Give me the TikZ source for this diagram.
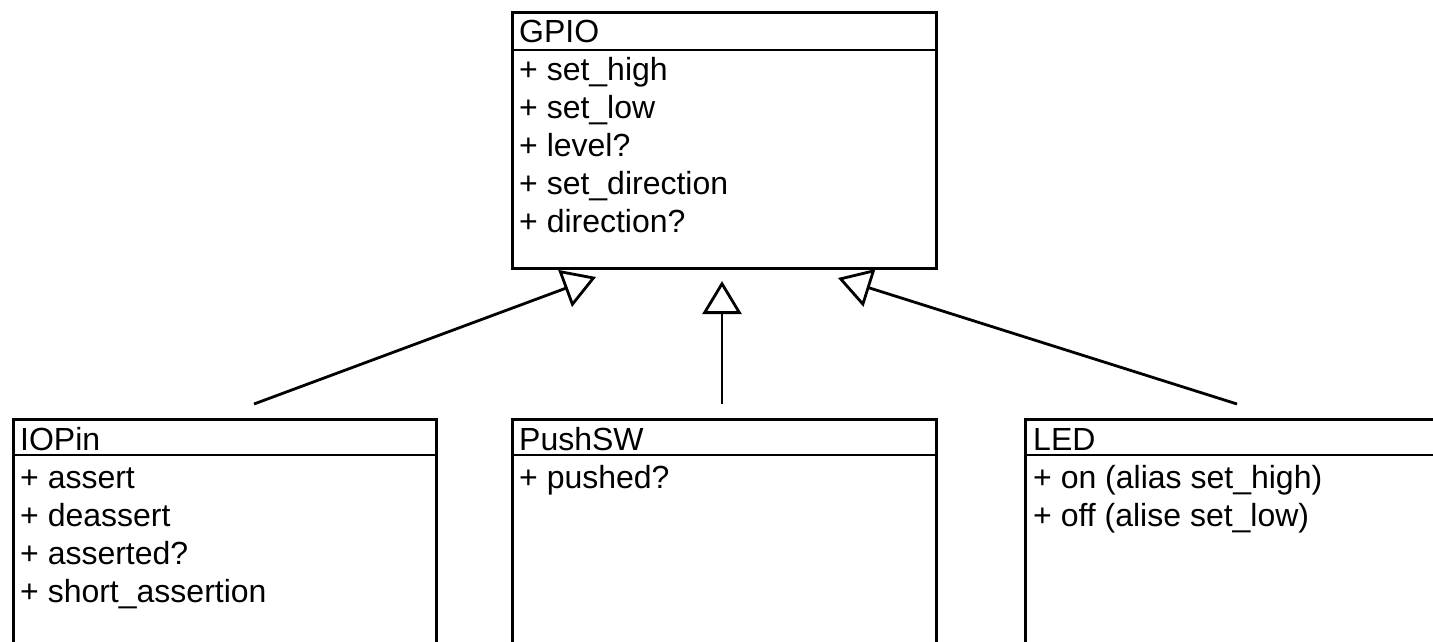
\documentclass[tikz,border=0pt]{standalone}
\usepackage{fontspec}
\setmainfont{Liberation Sans}
\usetikzlibrary{arrows.meta}
\begin{document}
\begin{tikzpicture}[x=1pt,y=-1pt,
  classbox/.style={draw, line width=2.8pt, inner sep=0pt, anchor=north west},
  divider/.style={line width=2.2pt},
  label/.style={anchor=base west, inner sep=0pt, font=\fontsize{32}{38}\selectfont},
  inherit/.style={line width=2.8pt, line join=miter,
    -{Triangle[open, length=33pt, width=39pt]}}
]
\useasboundingbox (0,0) rectangle (1433,641);
\clip (0,0) rectangle (1433,641);

% parent class
\node[classbox, minimum width=424pt, minimum height=256pt] (gpio) at (511,11) {};
\draw[divider] (gpio.west |- 0,50) -- (gpio.east |- 0,50);
\node[label] (gpioname) at (519,42) {GPIO};
\node[label] (g1) at (519,80) {+ set\_high};
\node[label] (g2) at (519,118) {+ set\_low};
\node[label] (g3) at (519,156) {+ level?};
\node[label] (g4) at (519,194) {+ set\_direction};
\node[label] (g5) at (519,232) {+ direction?};

% subclasses
\node[classbox, minimum width=423pt, minimum height=300pt] (iopin) at (12,418) {};
\draw[divider] (iopin.west |- 0,455) -- (iopin.east |- 0,455);
\node[label] (iopinname) at (20,450) {IOPin};
\node[label] (i1) at (20,488) {+ assert};
\node[label] (i2) at (20,526) {+ deassert};
\node[label] (i3) at (20,564) {+ asserted?};
\node[label] (i4) at (20,602) {+ short\_assertion};

\node[classbox, minimum width=424pt, minimum height=300pt] (pushsw) at (511,418) {};
\draw[divider] (pushsw.west |- 0,455) -- (pushsw.east |- 0,455);
\node[label] (pushswname) at (519,450) {PushSW};
\node[label] (p1) at (519,488) {+ pushed?};

\node[classbox, minimum width=440pt, minimum height=300pt] (led) at (1024,418) {};
\draw[divider] (led.west |- 0,455) -- (led.east |- 0,455);
\node[label] (ledname) at (1033,450) {LED};
\node[label] (l1) at (1033,488) {+ on (alias set\_high)};
\node[label] (l2) at (1033,526) {+ off (alise set\_low)};

% generalization connectors
\coordinate (iopinfrom) at (254,404);
\coordinate (iopinto) at (596,277);
\coordinate (pushswfrom) at (722,404);
\coordinate (pushswto) at (722,281);
\coordinate (ledfrom) at (1237,404);
\coordinate (ledto) at (838,278);
\draw[inherit] (iopinfrom) -- (iopinto);
\draw[inherit] (pushswfrom) -- (pushswto);
\draw[inherit] (ledfrom) -- (ledto);
\end{tikzpicture}
\end{document}
